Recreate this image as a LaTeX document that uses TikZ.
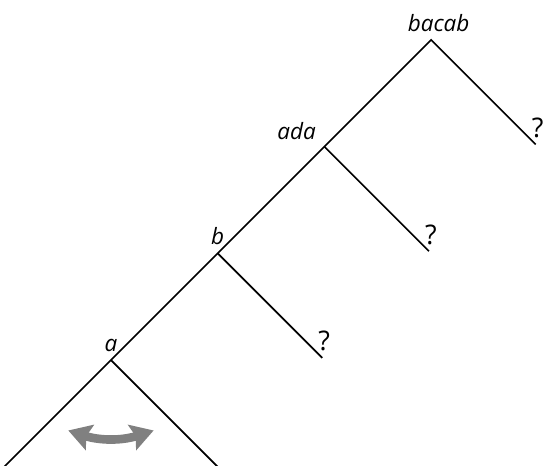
\documentclass[tikz,border=0pt]{standalone}
\usepackage{fontspec}
\setmainfont{Open Sans}
\usepackage{tikz}
\usetikzlibrary{arrows.meta,positioning}

\begin{document}
\begin{tikzpicture}[x=2cm, y=2cm, every node/.style={font=\large\itshape},
    edge/.style={line width=0.9pt},
    unk/.style={font=\Large\upshape},
    swaparrow/.style={line width=4.6pt, draw=gray,
      {Stealth[length=12pt, width=14pt, inset=2pt]}-{Stealth[length=12pt, width=14pt, inset=2pt]}}]
  \useasboundingbox (-1.04,-0.984) rectangle (4.086,3.374);
  \coordinate (a) at (0,0);
  \coordinate (b) at (1,1);
  \coordinate (ada) at (2,2);
  \coordinate (bacab) at (3,3);
  \coordinate (la) at (-1,-1);
  \coordinate (ra) at (1,-1);
  \coordinate (qb) at (1.98,0.02);
  \coordinate (qada) at (2.98,1.02);
  \coordinate (qbacab) at (3.98,2.02);
  \draw[edge] (la) -- (a) -- (b) -- (ada) -- (bacab) -- (qbacab);
  \draw[edge] (a) -- (ra);
  \draw[edge] (b) -- (qb);
  \draw[edge] (ada) -- (qada);
  \node[above=1pt] (ta) at (a) {a};
  \node[above=1pt] (tb) at (b) {b};
  \node[above left=0pt and 1pt] (tada) at (ada) {ada};
  \node[above=1pt, xshift=4pt] (tbacab) at (bacab) {bacab};
  \node[unk, above=0pt, xshift=1pt] (qqb) at (qb) {?};
  \node[unk, above=0pt, xshift=1pt] (qqada) at (qada) {?};
  \node[unk, above=0pt, xshift=1pt] (qqbacab) at (qbacab) {?};
  % swap the two subtrees of a
  \coordinate (sl) at (-0.40,-0.66);
  \coordinate (sr) at (0.40,-0.66);
  \draw[swaparrow] (sl) to[bend right=18] (sr);
\end{tikzpicture}
\end{document}
